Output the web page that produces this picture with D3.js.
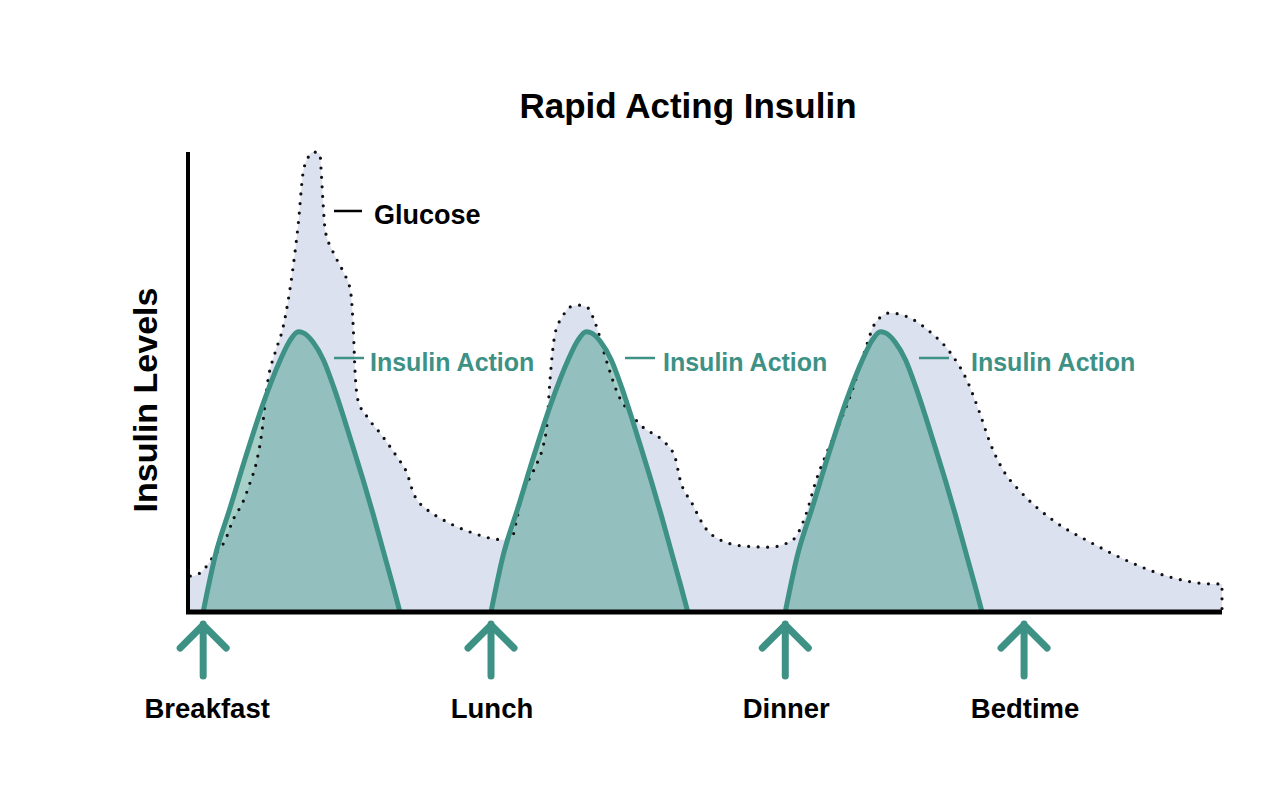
<!DOCTYPE html>
<html>
<head>
<meta charset="utf-8">
<script src="https://cdn.jsdelivr.net/npm/d3@7"></script>
<style>
  body { margin: 0; background: #fff; }
  text { font-family: "Liberation Sans", Arial, sans-serif; font-weight: bold; }
</style>
</head>
<body>
<div id="viz"></div>
<script>
// glucose curve (hour of day, level 0-100)
var glucoseHours = [6.78, 6.95, 7.17, 7.38, 7.51, 7.68, 7.80, 7.92, 8.01, 8.06, 8.11, 8.23, 8.37, 8.54, 8.63, 8.71, 8.80, 8.88, 9.00, 9.02, 9.05, 9.09, 9.21, 9.40, 9.52, 9.57, 9.60, 9.65, 9.81, 10.03, 10.32, 10.49, 10.60, 10.84, 11.06, 11.57, 12.14, 12.29, 12.38, 12.48, 12.60, 12.74, 12.82, 12.89, 12.94, 13.03, 13.15, 13.28, 13.46, 13.59, 13.71, 13.92, 14.11, 14.31, 14.53, 14.86, 15.08, 15.17, 15.37, 15.60, 15.85, 16.28, 16.71, 17.10, 17.31, 17.50, 17.70, 17.92, 18.12, 18.32, 18.51, 18.76, 19.11, 19.45, 19.79, 20.08, 20.30, 20.48, 20.68, 21.02, 21.55, 22.22, 22.87, 23.56, 24.29, 24.45]
var glucoseLevel = [7.8, 8.5, 12.0, 15.7, 20.0, 23.9, 28.0, 33.0, 39.6, 45.4, 50.4, 56.3, 62.0, 75.0, 84.6, 95.4, 98.9, 100, 99.6, 96.1, 89.6, 83.0, 78.7, 73.9, 70.0, 62.0, 52.6, 46.1, 42.4, 38.9, 33.7, 30.2, 25.9, 22.2, 20.4, 17.4, 15.7, 16.3, 20.7, 26.5, 29.3, 33.0, 35.9, 41.1, 50.4, 60.7, 64.1, 66.3, 66.7, 66.1, 63.0, 54.1, 47.2, 43.3, 40.2, 37.4, 33.7, 28.7, 23.7, 18.3, 15.7, 14.3, 14.1, 15.7, 20.7, 28.7, 35.2, 41.7, 48.3, 56.3, 62.8, 65.0, 63.9, 60.9, 56.5, 50.4, 43.3, 36.7, 31.3, 25.9, 20.0, 15.0, 10.9, 7.6, 6.1, 6.1]

// rapid acting insulin action profile (hours after the dose, level)
var actionHours = [0, 0.21, 0.46, 0.75, 1.03, 1.32, 1.49, 1.63, 1.71, 1.88, 2.06, 2.23, 2.40, 2.57, 2.74, 2.91, 3.08, 3.25, 3.37]
var actionLevel = [0, 12.4, 22.6, 34.6, 45.4, 54.8, 59.1, 60.9, 60.7, 58.7, 54.8, 49.1, 42.6, 35.7, 28.7, 21.3, 13.5, 5.7, 0]

var meals = ["Breakfast", "Lunch", "Dinner", "Bedtime"]
var mealHours = [7, 11.93, 16.97, 21.06]
var doseHours = [7, 11.93, 16.97]
var actionLabel = "Insulin Action"

var width = 1280, height = 790
var margin = {top: 152, left: 188, right: 58, bottom: 178}

var svg = d3.select("#viz").append("svg")
  .attr("width", width)
  .attr("height", height)

var xScale = d3.scaleLinear()
  .domain([6.74, 24.45])
  .range([margin.left, width - margin.right])

var yScale = d3.scaleLinear()
  .domain([0, 100])
  .range([height - margin.bottom, margin.top])

var teal = "#3d9185"

// glucose area ----
var glucose = glucoseHours.map(function(h, i) { return {h: h, v: glucoseLevel[i]} })

var area = d3.area()
  .x(function(d) { return xScale(d.h) })
  .y0(yScale(0))
  .y1(function(d) { return yScale(d.v) })
  .curve(d3.curveMonotoneX)

var line = d3.line()
  .x(function(d) { return xScale(d.h) })
  .y(function(d) { return yScale(d.v) })
  .curve(d3.curveMonotoneX)

svg.append("path")
  .datum([{h: 6.74, v: glucoseLevel[0]}].concat(glucose))
  .attr("d", area)
  .attr("fill", "#dce1ef")

// insulin action curves ----
function actionCurve(dose) {
  return actionHours.map(function(h, i) { return {h: dose + h, v: actionLevel[i]} })
}

doseHours.forEach(function(dose) {
  svg.append("path")
    .datum(actionCurve(dose))
    .attr("d", area)
    .attr("fill", "rgb(60,150,132)")
    .attr("fill-opacity", 0.45)
})

// dotted glucose line on top of fill
svg.append("path")
  .datum(glucose.concat([{h: 24.45, v: 0}]))
  .attr("d", line)
  .attr("fill", "none")
  .attr("stroke", "#111")
  .attr("stroke-width", 3.2)
  .attr("stroke-linecap", "round")
  .attr("stroke-dasharray", "0 9.5")

doseHours.forEach(function(dose) {
  svg.append("path")
    .datum(actionCurve(dose))
    .attr("d", line)
    .attr("fill", "none")
    .attr("stroke", teal)
    .attr("stroke-width", 5)
})

// axes ----
svg.append("line")
  .attr("x1", xScale.range()[0]).attr("x2", xScale.range()[0])
  .attr("y1", yScale(0) + 2).attr("y2", yScale(100))
  .attr("stroke", "#000").attr("stroke-width", 4)

svg.append("line")
  .attr("x1", xScale.range()[0] - 2).attr("x2", xScale.range()[1])
  .attr("y1", yScale(0)).attr("y2", yScale(0))
  .attr("stroke", "#000").attr("stroke-width", 5)

// meal arrows and labels ----
var arrows = svg.append("g")
  .selectAll("g")
  .data(mealHours)
  .enter()
  .append("g")
  .attr("transform", function(d) { return "translate(" + xScale(d) + "," + (yScale(0) + 12) + ")" })

arrows.append("path")
  .attr("d", "M0,0 V52 M-23,24 L0,1 L23,24")
  .attr("fill", "none")
  .attr("stroke", teal)
  .attr("stroke-width", 7)
  .attr("stroke-linecap", "round")
  .attr("stroke-linejoin", "round")

svg.append("g")
  .selectAll("text")
  .data(meals)
  .enter()
  .append("text")
  .attr("x", function(d, i) { return xScale(mealHours[i]) + (i == 0 ? 4 : 1) })
  .attr("y", 718)
  .attr("text-anchor", "middle")
  .style("font-size", "27.5px")
  .text(function(d) { return d })

// title and axis label ----
svg.append("text")
  .attr("x", 688)
  .attr("y", 118)
  .attr("text-anchor", "middle")
  .style("font-size", "35px")
  .text("Rapid Acting Insulin")

svg.append("text")
  .attr("transform", "translate(157,400) rotate(-90)")
  .attr("text-anchor", "middle")
  .style("font-size", "34px")
  .text("Insulin Levels")

// curve annotations ----
svg.append("line")
  .attr("x1", 334).attr("x2", 362).attr("y1", 211).attr("y2", 211)
  .attr("stroke", "#000").attr("stroke-width", 2.5)

svg.append("text")
  .attr("x", 374).attr("y", 224)
  .style("font-size", "27px")
  .text("Glucose")

var leaderX = [334, 625, 919]
var labelX = [370, 663, 971]
doseHours.forEach(function(dose, i) {
  svg.append("line")
    .attr("x1", leaderX[i]).attr("x2", leaderX[i] + 30)
    .attr("y1", 358).attr("y2", 358)
    .attr("stroke", teal).attr("stroke-width", 2.5)
  svg.append("text")
    .attr("x", labelX[i]).attr("y", 371)
    .attr("fill", teal)
    .style("font-size", "25px")
    .text(actionLabel)
})
</script>
</body>
</html>
